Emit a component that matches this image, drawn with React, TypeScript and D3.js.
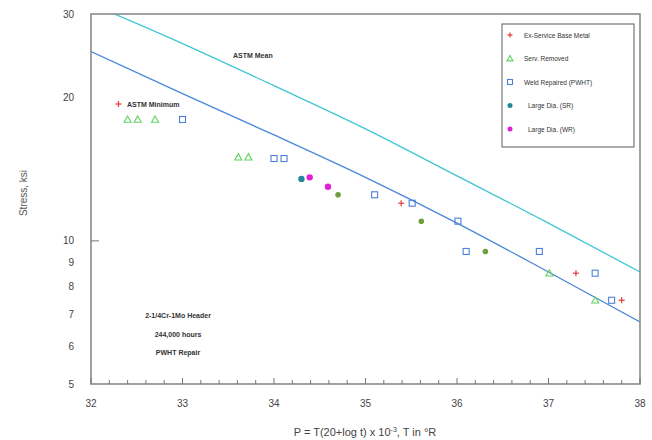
import React from 'react';
import * as d3 from 'd3';

// Larson-Miller parameter / stress (ksi)
const exServiceP = [32.3, 35.39, 37.3, 37.8];
const exServiceS = [19.4, 12.0, 8.55, 7.5];

const servRemovedP = [32.4, 32.51, 32.7, 33.61, 33.72, 37.01, 37.51];
const servRemovedS = [18.0, 18.0, 18.0, 15.0, 15.0, 8.55, 7.5];

const servFilledP = [34.7, 35.61, 36.31];
const servFilledS = [12.5, 11.0, 9.5];

const weldP = [33.0, 34.0, 34.11, 35.1, 35.51, 36.01, 36.1, 36.9, 37.51, 37.69];
const weldS = [18.0, 14.9, 14.9, 12.5, 12.0, 11.0, 9.5, 9.5, 8.55, 7.5];

const largeSrP = [34.3];
const largeSrS = [13.5];

const largeWrP = [34.39, 34.59];
const largeWrS = [13.6, 13.0];

const lineP = [32, 33, 34, 35, 36, 37, 38];
const meanS = [31.5, 26.0, 21.2, 17.2, 13.7, 10.9, 8.6];
const minS = [25.0, 20.4, 16.7, 13.6, 10.9, 8.6, 6.75];

const xTicks = [32, 33, 34, 35, 36, 37, 38];
const yTicks = [5, 6, 7, 8, 9, 10, 20, 30];

const legendLabels = [
  'Ex-Service Base Metal',
  'Serv. Removed',
  'Weld Repaired (PWHT)',
  'Large Dia. (SR)',
  'Large Dia. (WR)',
];

const noteLines = ['2-1/4Cr-1Mo Header', '244,000 hours', 'PWHT Repair'];

const W = 652;
const H = 440;
const left = 91, right = 640, top = 14, bottom = 384;
const font = 'Liberation Sans, Arial, sans-serif';

const RED = '#e23a3a';
const GREEN = '#5fd35f';
const BLUE = '#4d7fd8';
const TEAL = '#23899a';
const MAGENTA = '#e021d6';
const OLIVE = '#6f9e3a';
const CYAN = '#3ec6d6';
const LBLUE = '#4a86dc';

const zip = (a: number[], b: number[]) => a.map((v, i) => [v, b[i]] as [number, number]);

const Plus = ({ x, y, c, s = 3 }: any) => (
  <g stroke={c} strokeWidth={1.2}>
    <line x1={x - s} x2={x + s} y1={y} y2={y} />
    <line x1={x} x2={x} y1={y - s} y2={y + s} />
  </g>
);
const Tri = ({ x, y, c, fill = 'none', s = 3.5 }: any) => (
  <path d={`M${x},${y - s}L${x + s},${y + s * 0.8}L${x - s},${y + s * 0.8}Z`} fill={fill} stroke={c} strokeWidth={1.1} />
);
const Sq = ({ x, y, c, s = 3 }: any) => (
  <rect x={x - s} y={y - s} width={s * 2} height={s * 2} fill="none" stroke={c} strokeWidth={1.1} />
);
const Dot = ({ x, y, c, r = 3.2 }: any) => <circle cx={x} cy={y} r={r} fill={c} />;

export default function App() {
  const x = d3.scaleLinear().domain([32, 38]).range([left, right]);
  const y = d3.scaleLog().domain([5, 30]).range([bottom, top]);

  const line = d3.line<[number, number]>()
    .x(d => x(d[0]))
    .y(d => y(d[1]))
    .curve(d3.curveMonotoneX);

  const minorTicks = d3.range(32, 38.001, 0.2);

  return (
    <svg width={W} height={H} style={{ position: 'absolute', left: 0, top: 0, background: '#fff' }} fontFamily={font}>
      <defs>
        <clipPath id="plot">
          <rect x={left} y={top} width={right - left} height={bottom - top} />
        </clipPath>
      </defs>

      {/* fit lines */}
      <g clipPath="url(#plot)" fill="none">
        <path d={line(zip(lineP, meanS)) || ''} stroke={CYAN} strokeWidth={1.3} />
        <path d={line(zip(lineP, minS)) || ''} stroke={LBLUE} strokeWidth={1.3} />
      </g>

      {/* frame */}
      <rect x={left} y={top} width={right - left} height={bottom - top} fill="none" stroke="#8a8a8a" strokeWidth={1.6} />

      {/* x ticks */}
      {minorTicks.map((t, i) => (
        <line key={i} x1={x(t)} x2={x(t)} y1={bottom} y2={bottom - (i % 5 === 0 ? 6 : 4)} stroke="#777" strokeWidth={1} />
      ))}
      {xTicks.map(t => (
        <text key={t} x={x(t)} y={407} fontSize={10} fill="#444" textAnchor="middle">{t}</text>
      ))}

      {/* y ticks */}
      <line x1={left} x2={left + 8} y1={y(10)} y2={y(10)} stroke="#777" strokeWidth={1} />
      {yTicks.map(t => (
        <text key={t} x={74} y={y(t) + 3.5} fontSize={10} fill="#444" textAnchor="end">{t}</text>
      ))}

      <text transform="translate(27,193) rotate(-90)" fontSize={10} fill="#555" textAnchor="middle">Stress, ksi</text>
      <text x={365} y={436} fontSize={11} fill="#444" textAnchor="middle">
        P = T(20+log t) x 10<tspan fontSize={7} dy={-4}>-3</tspan><tspan dy={4}>, T in °R</tspan>
      </text>

      {/* annotations */}
      <text x={233} y={58} fontSize={7} fontWeight="bold" fill="#333">ASTM Mean</text>
      <text x={127} y={107} fontSize={7} fontWeight="bold" fill="#333">ASTM Minimum</text>
      {noteLines.map((s, i) => (
        <text key={s} x={178} y={318 + i * 18.5} fontSize={7} fontWeight="bold" fill="#333" textAnchor="middle">{s}</text>
      ))}

      {/* data */}
      {zip(servRemovedP, servRemovedS).map(([p, s], i) => <Tri key={'t' + i} x={x(p)} y={y(s)} c={GREEN} />)}
      {zip(servFilledP, servFilledS).map(([p, s], i) => <Dot key={'f' + i} x={x(p)} y={y(s)} c={OLIVE} r={2.8} />)}
      {zip(weldP, weldS).map(([p, s], i) => <Sq key={'w' + i} x={x(p)} y={y(s)} c={BLUE} />)}
      {zip(largeSrP, largeSrS).map(([p, s], i) => <Dot key={'r' + i} x={x(p)} y={y(s)} c={TEAL} />)}
      {zip(largeWrP, largeWrS).map(([p, s], i) => <Dot key={'m' + i} x={x(p)} y={y(s)} c={MAGENTA} />)}
      {zip(exServiceP, exServiceS).map(([p, s], i) => <Plus key={'p' + i} x={x(p)} y={y(s)} c={RED} />)}

      {/* legend */}
      <rect x={502} y={24} width={132} height={123} fill="#fff" stroke="#777" strokeWidth={1.2} />
      {legendLabels.map((lab, i) => {
        const ly = 35 + i * 23.5;
        const mx = 510;
        return (
          <g key={lab}>
            {i === 0 && <Plus x={mx} y={ly} c={RED} s={2.5} />}
            {i === 1 && <Tri x={mx} y={ly} c={GREEN} s={3} />}
            {i === 2 && <Sq x={mx} y={ly} c={BLUE} s={2.5} />}
            {i === 3 && <Dot x={mx} y={ly} c={TEAL} r={2.5} />}
            {i === 4 && <Dot x={mx} y={ly} c={MAGENTA} r={2.5} />}
            <text x={i >= 3 ? 528 : 524} y={ly + 2.5} fontSize={6.5} fill="#333">{lab}</text>
          </g>
        );
      })}
    </svg>
  );
}
